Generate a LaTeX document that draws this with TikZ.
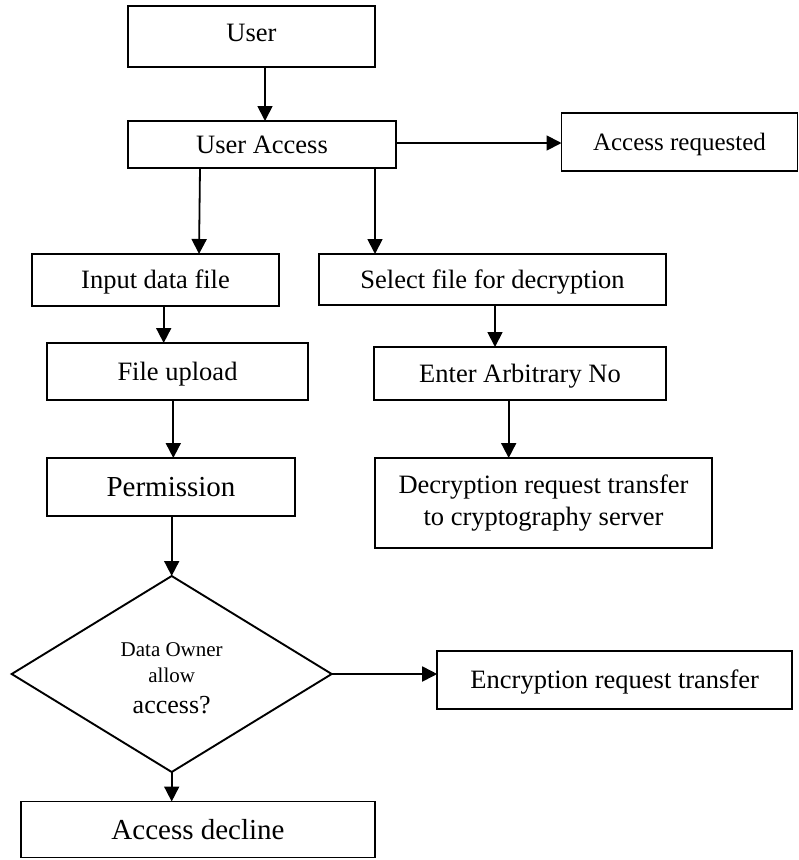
\documentclass[tikz,border=0pt]{standalone}
\usepackage{fontspec}
\setmainfont{Liberation Serif}
\usetikzlibrary{arrows.meta,shapes.geometric}
\begin{document}
\begin{tikzpicture}[x=1pt,y=-1pt,
  every node/.style={inner sep=0pt, outer sep=0pt},
  box/.style={draw=black, line width=1.9pt, rectangle, fill=white,
    font=\fontsize{26.5}{32}\selectfont, text height=17.5pt, text depth=0pt},
  bigbox/.style={box, font=\fontsize{29}{34}\selectfont, text height=19.2pt},
  arr/.style={draw=black, line width=1.8pt, -{Triangle[length=15pt,width=15pt]}},
  small/.style={font=\fontsize{21}{25}\selectfont, anchor=base},
]
% page area
\fill[white] (0,0) rectangle (799,860);
\useasboundingbox (0,0) rectangle (799,860);

% boxes
\node[box, minimum width=247pt, minimum height=61pt, text depth=8pt] (user) at (251.5,36.5) {User};
\node[box, minimum width=268pt, minimum height=47pt] (ua) at (262,144.5) {User Access};
\node[box, font=\fontsize{25}{30}\selectfont, text height=16.5pt,
      minimum width=236pt, minimum height=58pt] (areq) at (679.5,142) {Access requested};
\node[box, minimum width=247pt, minimum height=52pt] (input) at (155.5,280) {Input data file};
\node[box, minimum width=347pt, minimum height=51pt] (sel) at (492.5,279.5) {Select file for decryption};
\node[box, minimum width=261pt, minimum height=57pt] (fup) at (177.5,371.5) {File upload};
\node[box, minimum width=292pt, minimum height=53pt] (enter) at (520,373.5) {Enter Arbitrary No};
\node[bigbox, minimum width=248pt, minimum height=58pt] (perm) at (171,487) {Permission};
\node[draw=black, line width=1.9pt, fill=white, align=center,
      font=\fontsize{26.5}{32}\selectfont,
      minimum width=337pt, minimum height=90pt] (decr) at (543.5,503)
      {Decryption request transfer\\to cryptography server};
\node[box, minimum width=355pt, minimum height=58pt] (enc) at (614.7,680) {Encryption request transfer};
\node[bigbox, minimum width=354pt, minimum height=56pt] (decl) at (198,829.5) {Access decline};

% decision
\node[draw=black, line width=1.9pt, diamond, minimum width=320pt, minimum height=196pt] (dia) at (171.7,674) {};
\node[small] (q1) at ([yshift=18pt]dia.center) {Data Owner};
\node[small] (q2) at ([yshift=-8.7pt]dia.center) {allow};
\node[small, font=\fontsize{26}{30}\selectfont] (q3) at ([yshift=-39.3pt]dia.center) {access?};

% connector start points
\coordinate (c1) at ([xshift=13.5pt]user.south);
\coordinate (c2) at ([yshift=1.5pt]ua.east);
\coordinate (c3) at ([xshift=-62pt]ua.south);
\coordinate (c3e) at ([xshift=43.5pt]input.north);
\coordinate (c4) at ([xshift=113pt]ua.south);
\coordinate (c5) at ([xshift=8.2pt]input.south);
\coordinate (c6) at ([xshift=2.5pt]sel.south);
\coordinate (c7) at ([xshift=-4.2pt]fup.south);
\coordinate (c8) at ([xshift=-11.3pt]enter.south);

% connectors
\draw[arr] (c1) -- (c1 |- ua.north);
\draw[arr] (c2) -- (c2 -| areq.west);
\draw[arr] (c3) -- (c3e);
\draw[arr] (c4) -- (c4 |- sel.north);
\draw[arr] (c5) -- (c5 |- fup.north);
\draw[arr] (c6) -- (c6 |- enter.north);
\draw[arr] (c7) -- (c7 |- perm.north);
\draw[arr] (c8) -- (c8 |- decr.north);
\draw[arr] (dia.north |- perm.south) -- (dia.north);
\draw[arr] (dia.east) -- (dia.east -| enc.west);
\draw[arr] (dia.south) -- (dia.south |- decl.north);
\end{tikzpicture}
\end{document}
